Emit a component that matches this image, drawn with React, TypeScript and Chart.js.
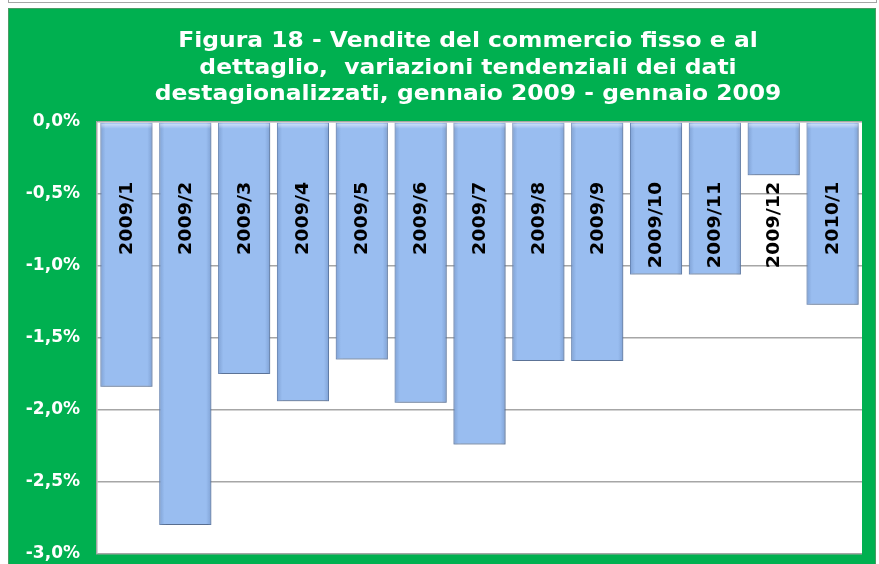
import React, { useEffect, useRef } from "react";
import { Chart, registerables } from "chart.js";

Chart.register(...registerables);

const categories = [
  "2009/1", "2009/2", "2009/3", "2009/4", "2009/5", "2009/6", "2009/7",
  "2009/8", "2009/9", "2009/10", "2009/11", "2009/12", "2010/1",
];
const values = [-1.84, -2.8, -1.75, -1.94, -1.65, -1.95, -2.24, -1.66, -1.66, -1.06, -1.06, -0.37, -1.27];
const yMin = -3;
const yMax = 0;
const yStep = 0.5;
const labelAnchorValue = -0.415;
const titleLines = [
  "Figura 18 - Vendite del commercio fisso e al",
  "dettaglio,  variazioni tendenziali dei dati",
  "destagionalizzati, gennaio 2009 - gennaio 2009",
];

const GREEN = "#00B050";
const FONT = "'DejaVu Sans', Verdana, sans-serif";

const bgPlugin = {
  id: "bgPlugin",
  beforeDraw(chart: any) {
    const { ctx, chartArea } = chart;
    ctx.save();
    ctx.fillStyle = "#ffffff";
    ctx.fillRect(0, 0, chart.width, chart.height);
    ctx.strokeStyle = "#a6a6a6";
    ctx.lineWidth = 1;
    ctx.strokeRect(8.5, -10, 868, 12.5);
    ctx.fillStyle = GREEN;
    ctx.fillRect(8, 8, 868, chart.height - 8);
    ctx.strokeStyle = "#4f9a66";
    ctx.strokeRect(8.5, 8.5, 867, chart.height);
    ctx.fillStyle = "#ffffff";
    ctx.fillRect(chartArea.left, chartArea.top, chartArea.right - chartArea.left, chartArea.bottom - chartArea.top);
    ctx.restore();
  },
  beforeDatasetsDraw(chart: any) {
    const ctx = chart.ctx;
    ctx.save();
    ctx.shadowColor = "rgba(0,0,0,0.28)";
    ctx.shadowBlur = 3;
    ctx.shadowOffsetX = 1;
    ctx.shadowOffsetY = 3;
  },
  afterDatasetsDraw(chart: any) {
    const ctx = chart.ctx;
    ctx.restore();
    const meta = chart.getDatasetMeta(0);
    const yScale = chart.scales.y;
    meta.data.forEach((bar: any) => {
      const left = bar.x - bar.width / 2;
      const right = bar.x + bar.width / 2;
      const top = Math.min(bar.y, bar.base);
      const bottom = Math.max(bar.y, bar.base);
      const g = ctx.createLinearGradient(left, 0, right, 0);
      g.addColorStop(0, "rgba(70,100,150,0.3)");
      g.addColorStop(0.1, "rgba(70,100,150,0)");
      g.addColorStop(0.9, "rgba(70,100,150,0)");
      g.addColorStop(1, "rgba(70,100,150,0.3)");
      ctx.save();
      ctx.fillStyle = g;
      ctx.fillRect(left, top, right - left, bottom - top);
      const gt = ctx.createLinearGradient(0, top, 0, top + 6);
      gt.addColorStop(0, "rgba(255,255,255,0.6)");
      gt.addColorStop(1, "rgba(255,255,255,0)");
      ctx.fillStyle = gt;
      ctx.fillRect(left + 1, top + 1, right - left - 2, 6);
      ctx.restore();
    });
    const yAnchor = yScale.getPixelForValue(labelAnchorValue);
    ctx.save();
    ctx.fillStyle = "#000000";
    ctx.font = `bold 17px ${FONT}`;
    ctx.textAlign = "right";
    ctx.textBaseline = "middle";
    meta.data.forEach((bar: any, i: number) => {
      ctx.save();
      ctx.translate(bar.x, yAnchor);
      ctx.rotate(-Math.PI / 2);
      ctx.scale(1.12, 1);
      ctx.fillText(categories[i], 0, 1);
      ctx.restore();
    });
    ctx.restore();
  },
  afterDraw(chart: any) {
    const ctx = chart.ctx;
    ctx.save();
    ctx.fillStyle = "#ffffff";
    ctx.font = `bold 21px ${FONT}`;
    ctx.textAlign = "center";
    ctx.textBaseline = "alphabetic";
    const baselines = [47, 73.5, 100];
    titleLines.forEach((line, i) => {
      ctx.save();
      ctx.translate(468, baselines[i]);
      ctx.scale(1.115, 1);
      ctx.fillText(line, 0, 0);
      ctx.restore();
    });
    ctx.restore();
  },
};

export default function App() {
  const ref = useRef<HTMLCanvasElement | null>(null);

  useEffect(() => {
    if (!ref.current) return;
    const chart = new Chart(ref.current, {
      type: "bar",
      data: {
        labels: categories,
        datasets: [
          {
            data: values,
            backgroundColor: "#99BDF0",
            borderColor: "#7A98C6",
            borderWidth: 1,
            barPercentage: 0.885,
            categoryPercentage: 1,
          },
        ],
      },
      options: {
        animation: false,
        responsive: false,
        maintainAspectRatio: false,
        devicePixelRatio: 1,
        layout: { padding: { left: 8, top: 122, right: 17, bottom: 10 } },
        plugins: {
          legend: { display: false },
          title: { display: false },
          tooltip: { enabled: false },
        },
        scales: {
          x: {
            display: false,
          },
          y: {
            min: yMin,
            max: yMax,
            ticks: {
              stepSize: yStep,
              color: "#ffffff",
              font: { family: FONT, size: 17, weight: "bold" },
              padding: 0,
              callback: (v: any) => Number(v).toFixed(1).replace(".", ",") + "%",
            },
            grid: {
              color: "#a6a6a6",
              lineWidth: 1.5,
              drawTicks: true,
              tickLength: 17,
              tickColor: "rgba(0,0,0,0)",
            },
            border: { display: true, color: "#a6a6a6", width: 1.5 },
            afterFit: (scale: any) => {
              scale.width = 89;
            },
          },
        },
      },
      plugins: [bgPlugin],
    });
    return () => chart.destroy();
  }, []);

  return (
    <div style={{ position: "absolute", left: 0, top: 0, width: 879, height: 564 }}>
      <canvas ref={ref} width={879} height={564} style={{ width: 879, height: 564, display: "block" }} />
    </div>
  );
}
